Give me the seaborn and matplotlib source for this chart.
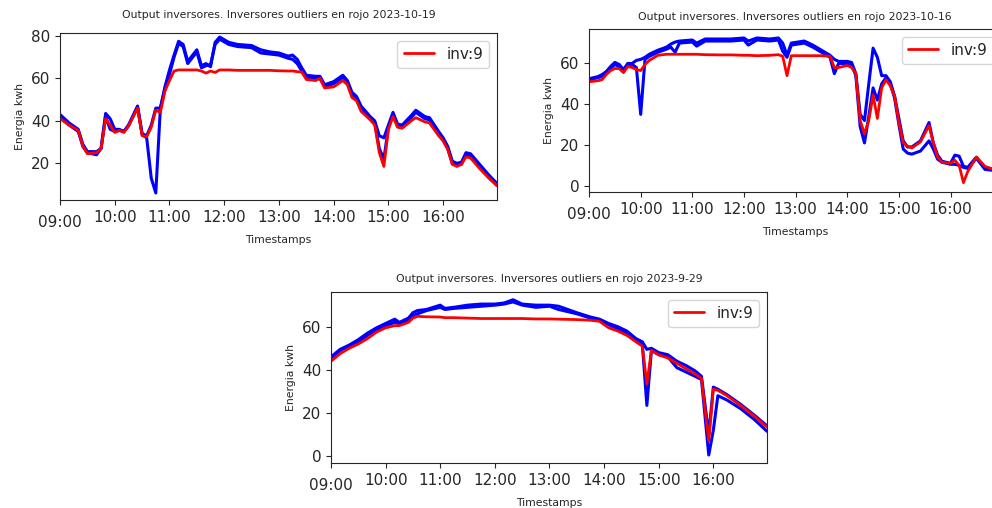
import pandas as pd
import matplotlib
matplotlib.use("Agg")
import matplotlib.pyplot as plt
import matplotlib.dates as mdates
import seaborn as sns

# Panel 1: 2023-10-19
fecha1 = "2023-10-19"
tiempos1 = ["09:00", "09:10", "09:20", "09:25", "09:30", "09:40", "09:45", "09:50", "09:55", "10:00",
            "10:05", "10:10", "10:15", "10:25", "10:30", "10:35", "10:40", "10:45", "10:50", "10:55",
            "11:00", "11:05", "11:10", "11:15", "11:20", "11:30", "11:35", "11:40", "11:45", "11:50",
            "11:55", "12:05", "12:15", "12:30", "12:40", "12:50", "13:00", "13:10", "13:15", "13:20",
            "13:25", "13:30", "13:40", "13:45", "13:50", "14:00", "14:10", "14:15", "14:20", "14:25",
            "14:30", "14:40", "14:45", "14:50", "14:55", "15:00", "15:05", "15:10", "15:15", "15:25",
            "15:30", "15:40", "15:45", "15:55", "16:00", "16:05", "16:10", "16:15", "16:20", "16:25",
            "16:30", "16:40", "16:50", "16:59"]
azul_a1 = [43, 39, 36, 29, 25.5, 25.5, 27, 43.5, 41, 36, 36, 35, 38, 47, 34, 33, 38, 46, 46, 56,
           64, 71, 77.5, 76, 68, 73.5, 66, 67, 65.5, 77, 79.5, 77, 76, 75.5, 73.5, 72.5, 72, 70.5, 71, 69,
           65, 61.5, 61, 61, 57, 58.5, 61.5, 59, 53.5, 51.5, 47, 42, 40, 33, 32, 38, 44, 38.5, 38, 42.5,
           45, 42, 41.5, 35, 32, 28, 21, 20, 20.5, 25, 24.5, 19.5, 14.5, 10.5]
azul_b1 = [42, 38, 35, 28, 25, 24, 27, 42, 36, 35, 35.5, 35, 37.5, 46.5, 33.5, 32, 13, 6, 46, 55,
           62, 70, 76.5, 75, 67, 72.5, 65, 66, 66.5, 76, 78.5, 76, 75, 74.5, 72, 71.5, 71, 69.5, 69, 67,
           63.5, 60.5, 60, 60, 56, 57.5, 60.5, 58, 52.5, 50.5, 46, 41, 39, 27, 22, 37, 43, 37.5, 37, 41.5,
           44, 41, 40.5, 34, 31, 27, 20, 19.5, 19.5, 24, 23.5, 18.5, 13.5, 9.5]
rojo1 = [41, 38, 35.5, 28, 24.5, 25, 27, 41, 38, 34.5, 35.5, 34.5, 37.5, 46, 33, 32.5, 37, 45, 44, 54,
         59, 63.5, 64, 64, 64, 64, 63.5, 62.5, 63.5, 62.8, 64, 64, 63.8, 63.8, 63.8, 63.8, 63.6, 63.5, 63.5, 63.2,
         63, 59.5, 59, 60, 55.5, 56, 59, 57, 51, 49.5, 44.5, 40.5, 38, 25, 18.5, 36, 42, 37, 36.5, 40,
         41.5, 39.5, 39, 33, 30.5, 26.5, 19.5, 18.5, 19.5, 23, 22.5, 17.5, 13, 9.5]

# Panel 2: 2023-10-16
fecha2 = "2023-10-16"
tiempos2 = ["09:00", "09:10", "09:15", "09:20", "09:25", "09:30", "09:35", "09:40", "09:45", "09:50",
            "09:55", "10:00", "10:05", "10:10", "10:20", "10:30", "10:35", "10:40", "10:45", "11:00",
            "11:05", "11:15", "11:30", "11:45", "12:00", "12:05", "12:15", "12:30", "12:40", "12:45",
            "12:50", "12:55", "13:10", "13:20", "13:30", "13:40", "13:45", "13:50", "14:00", "14:05",
            "14:10", "14:15", "14:20", "14:25", "14:30", "14:35", "14:40", "14:45", "14:50", "14:55",
            "15:00", "15:05", "15:10", "15:15", "15:25", "15:35", "15:40", "15:45", "15:50", "16:00",
            "16:05", "16:10", "16:15", "16:20", "16:30", "16:40", "16:50", "16:59"]
azul_a2 = [52.5, 53.5, 54.5, 56, 58.5, 60.5, 59.5, 57, 60, 60, 61.5, 62, 63, 64.5, 66.5, 68, 69.5, 70.5, 71, 71.5,
           70, 72, 72, 72, 72.5, 71, 72.5, 72, 72.5, 70, 64, 70, 71, 69, 66.5, 64, 62, 61, 61, 60.5,
           55, 35, 32, 50, 67.5, 63, 54, 54, 51, 44, 33, 22, 19, 19, 22, 31, 21, 15, 12, 11,
           15, 14.5, 9.5, 9, 14, 9, 8, 8.5]
azul_b2 = [52, 53, 53.5, 55, 57.5, 59.5, 58.5, 56, 59, 59.5, 58, 35, 62, 63.5, 65.5, 67, 68, 65.5, 70, 70.5,
           68.5, 71, 71, 71, 71.5, 69, 71.5, 71, 71.5, 66, 63, 69, 70, 68, 65.5, 63, 55, 60, 60, 59.5,
           54, 29, 21, 34, 48, 42, 50, 53, 50, 43, 30, 18, 16, 15.5, 17, 22, 18, 13, 11.5, 10.5,
           10.5, 10, 9, 8.5, 13.5, 8, 7.5, 8]
rojo2 = [51, 51.5, 52, 54.5, 56.5, 57.5, 57.5, 55.5, 58.5, 58, 57, 56.5, 59.5, 61.5, 64, 64.5, 64.5, 64.5, 64.5, 64.5,
         64.5, 64.3, 64.2, 64.2, 64, 64, 63.8, 64, 64.3, 63.5, 54, 63.8, 63.8, 63.8, 63.8, 63.5, 58, 58, 59, 58,
         55, 32, 25.5, 32, 44.5, 33, 48, 52, 49, 44, 31, 21, 19.5, 18.5, 21.5, 29.5, 21, 14, 11.5, 11,
         12.5, 10, 1.5, 7, 14, 9.5, 8, 8]

# Panel 3: 2023-9-29
fecha3 = "2023-9-29"
tiempos3 = ["09:00", "09:10", "09:20", "09:30", "09:40", "09:50", "10:00", "10:10", "10:15", "10:25",
            "10:30", "10:35", "10:45", "11:00", "11:05", "11:15", "11:30", "11:45", "12:00", "12:10",
            "12:20", "12:30", "12:45", "13:00", "13:10", "13:30", "13:45", "13:55", "14:05", "14:15",
            "14:25", "14:35", "14:42", "14:47", "14:52", "15:00", "15:10", "15:20", "15:30", "15:40",
            "15:47", "15:55", "16:00", "16:05", "16:15", "16:30", "16:45", "16:59"]
azul_a3 = [46, 49.5, 51.5, 54, 57, 59.5, 61.5, 63.5, 62, 64, 66.5, 67.5, 68, 70, 68.5, 69, 70, 70.5, 70.5, 71,
           72.5, 70.5, 70, 70, 69.5, 66.5, 64.5, 63.5, 61.5, 60, 58, 54.5, 53, 49.5, 50, 48, 47, 44, 42, 39.5,
           37, 10, 32, 31, 28.5, 24, 19, 14]
azul_b3 = [45.5, 49, 51, 53, 56, 58.5, 60.5, 62, 61.5, 63, 65, 66, 67.5, 69, 68, 68.5, 69, 69.5, 70, 70.5,
           71.5, 70, 69, 69.5, 68, 66, 64, 63, 61, 59, 57, 53.5, 52, 23.5, 49, 47, 46, 41, 39, 37,
           35.5, 0.5, 12, 28, 26, 22, 17, 11.5]
rojo3 = [44, 47.5, 50, 52, 54.5, 57.5, 59.5, 60.5, 60.5, 62, 64, 64.8, 64.6, 64.5, 64.2, 64.2, 64, 63.8, 63.8, 63.8,
         63.8, 63.8, 63.6, 63.6, 63.5, 63.3, 63, 62.5, 59.5, 58, 56, 53, 51, 33.5, 49, 47, 45.5, 43, 40.5, 38,
         36, 7, 31, 30.5, 28, 23.5, 18.5, 13.5]

sns.set_style("ticks")
plt.rcParams["font.family"] = ["DejaVu Sans"]

fig = plt.figure(figsize=(9.92, 5.08), dpi=100)

# (fecha, tiempos, azul_a, azul_b, rojo, posicion del eje, ylim, pad del titulo)
paneles = [
    (fecha1, tiempos1, azul_a1, azul_b1, rojo1, [0.0605, 0.6063, 0.4405, 0.3287], (2.7, 81.4), 11),
    (fecha2, tiempos2, azul_a2, azul_b2, rojo2, [0.5938, 0.6220, 0.4156, 0.3209], (-3.1, 76.9), 6.5),
    (fecha3, tiempos3, azul_a3, azul_b3, rojo3, [0.3337, 0.0886, 0.4395, 0.3366], (-3.2, 76.1), 7.5),
]

for fecha, tiempos, azul_a, azul_b, rojo, pos, ylim, pad in paneles:
    ax = fig.add_axes(pos)
    x = pd.to_datetime([fecha + " " + t for t in tiempos], format="%Y-%m-%d %H:%M")
    sns.lineplot(x=x, y=azul_a, color="blue", lw=2.2, ax=ax)
    sns.lineplot(x=x, y=azul_b, color="blue", lw=2.2, ax=ax)
    sns.lineplot(x=x, y=rojo, color="red", lw=2, ax=ax, label="inv:9")

    inicio = pd.to_datetime(fecha + " 09:00", format="%Y-%m-%d %H:%M")
    fin = pd.to_datetime(fecha + " 16:59", format="%Y-%m-%d %H:%M")
    ax.set_xlim(inicio, fin)
    ax.set_ylim(*ylim)

    # 09:00 como tick mayor (sale mas abajo), el resto menores
    fmt = mdates.DateFormatter("%H:%M")
    ax.xaxis.set_major_locator(mdates.HourLocator(byhour=[9]))
    ax.xaxis.set_minor_locator(mdates.HourLocator(byhour=range(10, 17)))
    ax.xaxis.set_major_formatter(fmt)
    ax.xaxis.set_minor_formatter(fmt)
    ax.tick_params(axis="x", which="major", labelsize=11, pad=7, length=3.5)
    ax.tick_params(axis="x", which="minor", labelsize=11, pad=3.5, length=3.5, width=0.8)
    ax.tick_params(axis="y", labelsize=11)

    ax.set_title("Output inversores. Inversores outliers en rojo " + fecha, fontsize=7.8, pad=pad)
    ax.set_xlabel("Timestamps", fontsize=7.8)
    ax.set_ylabel("Energia kwh", fontsize=7.8)
    ax.legend(loc="upper right", fontsize=11)

plt.savefig("out.png", dpi=100)
plt.close()
